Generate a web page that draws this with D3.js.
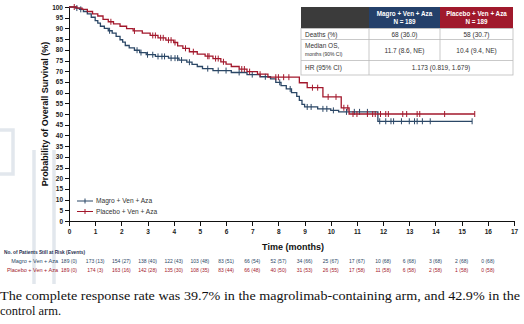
<!DOCTYPE html>
<meta charset="utf-8">
<style>
body { margin: 0; background: #fff; }
svg { display: block; font-family: "Liberation Sans", Arial, sans-serif; }
.axis path, .axis line { stroke: #111; stroke-width: 1px; shape-rendering: crispEdges; }
.axis text { font-size: 6.5px; fill: #222; font-weight: bold; }
.km { fill: none; stroke-width: 1.3px; }
.risk { font-size: 5px; }
.tbl { font-size: 6.5px; fill: #333; }
</style>
<body>
<script src="https://d3js.org/d3.v7.min.js"></script>
<script>

// Kaplan-Meier step points (months, % surviving)
var magroTimes = [0,0.25,0.4,0.55,0.7,0.85,1.0,1.1,1.2,1.35,1.5,1.65,1.8,1.95,2.05,2.15,2.3,2.5,2.7,2.95,3.3,3.8,4.2,4.5,4.7,4.9,5.1,5.5,6.2,6.8,7.3,7.7,7.9,8.1,8.3,8.5,8.7,8.8,8.9,9.0,9.5,10.0,10.3,11.8];
var magroSurv  = [100,99.5,98.9,97.9,96.8,95.2,93.6,92.5,91.0,90.0,88.9,87.8,86.3,84.7,83.6,82.0,80.9,79.8,78.7,77.7,76.9,76.1,75.2,74.2,73.2,72.2,71.2,70.3,69.4,68.4,67.4,66.4,64.8,63.3,61.7,60.0,58.2,56.4,54.5,53.3,52.4,51.7,51.0,46.6];
var magroEnd = 15.4;
var magroCensor = [0.3,0.45,1.55,2.6,2.75,3.0,3.2,3.4,3.55,3.65,3.9,4.05,4.15,4.3,4.6,5.3,5.7,6.0,6.5,7.0,7.5,8.05,8.45,9.1,9.25,9.7,9.85,10.1,10.6,10.9,11.1,11.4,11.87,12.1,12.3,12.4,12.7,13.0,13.2,13.3,13.5,13.8,15.4];

var placeboTimes = [0,0.3,0.5,0.7,0.9,1.1,1.3,1.5,1.7,1.95,2.2,2.45,2.8,3.1,3.4,3.7,4.0,4.15,4.35,4.6,4.9,5.2,5.5,5.8,6.0,6.2,6.5,6.8,7.2,7.6,8.8,9.1,9.7,10.4,10.7];
var placeboSurv  = [100,99.5,98.9,97.9,96.8,95.8,94.2,93.1,92.1,91.0,89.9,88.8,87.8,86.7,85.6,84.5,83.4,81.8,80.7,79.1,78.0,77.0,75.9,74.4,73.3,72.2,71.0,69.8,68.6,67.2,64.6,62.3,58.0,52.9,50.0];
var placeboEnd = 15.5;
var placeboCensor = [0.2,1.6,2.5,3.2,3.3,3.5,3.6,3.8,3.9,4.05,4.45,4.75,5.3,5.35,5.6,5.7,5.9,6.6,6.7,6.9,7.3,7.9,8.0,8.2,8.4,9.3,9.5,9.9,10.2,10.5,10.65,10.85,11.0,11.4,11.6,11.7,11.9,12.1,12.2,12.75,12.9,13.3,13.4,14.35,15.5];

var seriesNames = ["Magro + Ven + Aza", "Placebo + Ven + Aza"];
var seriesColors = ["#2b4766", "#a3182c"];

// patients at risk (events), one per month 0..16
var riskMonths = [0,1,2,3,4,5,6,7,8,9,10,11,12,13,14,15,16];
var magroRisk = ["189 (0)","173 (13)","154 (27)","138 (40)","122 (43)","103 (48)","83 (51)","66 (54)","52 (57)","34 (66)","25 (67)","17 (67)","10 (68)","6 (68)","3 (68)","2 (68)","0 (68)"];
var placeboRisk = ["189 (0)","174 (3)","163 (16)","142 (28)","135 (30)","108 (35)","83 (44)","66 (48)","40 (50)","31 (53)","26 (55)","17 (58)","11 (58)","6 (58)","2 (58)","1 (58)","0 (58)"];

// summary table
var tblHeader = [["Magro + Ven + Aza", "N = 189"], ["Placebo + Ven + Aza", "N = 189"]];
var tblDeaths = ["Deaths (%)", "68 (36.0)", "58 (30.7)"];
var tblMedian = ["Median OS,", "months (90% CI)", "11.7 (8.6, NE)", "10.4 (9.4, NE)"];
var tblHR = ["HR (95% CI)", "1.173 (0.819, 1.679)"];

var W = 524, H = 324;
var svg = d3.select("body").append("svg").attr("width", W).attr("height", H);

// faint background shapes
var bg = svg.append("g").attr("fill", "none").attr("stroke", "#e2e7ed").attr("stroke-width", 3.5);
bg.append("path").attr("d", "M-5,130H13V174H-5");
bg.append("line").attr("x1", 34).attr("x2", 34).attr("y1", 150).attr("y2", 284);
bg.append("line").attr("x1", 54).attr("x2", 54).attr("y1", 150).attr("y2", 284);

var x = d3.scaleLinear().domain([0, 17]).range([69, 514]);
var y = d3.scaleLinear().domain([0, 100]).range([221, 7]);

svg.append("g").attr("class", "axis")
    .attr("transform", "translate(69,0)")
    .call(d3.axisLeft(y).tickValues(d3.range(0, 101, 5)).tickSize(4).tickPadding(2));

svg.append("g").attr("class", "axis")
    .attr("transform", "translate(0,221)")
    .call(d3.axisBottom(x).tickValues(d3.range(0, 18)).tickSize(5).tickPadding(3));

svg.selectAll(".axis .domain").attr("stroke-width", 1.2);

svg.append("text")
    .attr("transform", "translate(48,114) rotate(-90)")
    .attr("text-anchor", "middle")
    .style("font-size", "9px").style("font-weight", "bold").attr("fill", "#111")
    .text("Probability of Overall Survival (%)");

svg.append("text")
    .attr("x", 293).attr("y", 250)
    .attr("text-anchor", "middle")
    .style("font-size", "9px").style("font-weight", "bold").attr("fill", "#111")
    .text("Time (months)");

// curves
var series = [
  {times: magroTimes, surv: magroSurv, end: magroEnd, censor: magroCensor},
  {times: placeboTimes, surv: placeboSurv, end: placeboEnd, censor: placeboCensor}
];

var line = d3.line()
    .x(function(d) { return x(d[0]); })
    .y(function(d) { return y(d[1]); })
    .curve(d3.curveStepAfter);

function survAt(s, t) {
  var i = d3.bisectRight(s.times, t) - 1;
  return s.surv[Math.max(0, i)];
}

series.forEach(function(s, k) {
  var pts = s.times.map(function(t, i) { return [t, s.surv[i]]; });
  pts.push([s.end, s.surv[s.surv.length - 1]]);
  var g = svg.append("g").attr("stroke", seriesColors[k]);
  g.append("path").attr("class", "km").attr("d", line(pts));
  g.selectAll("line").data(s.censor).enter().append("line")
      .attr("x1", function(t) { return x(t); })
      .attr("x2", function(t) { return x(t); })
      .attr("y1", function(t) { return y(survAt(s, t)) - 3; })
      .attr("y2", function(t) { return y(survAt(s, t)) + 3; })
      .attr("stroke-width", 1);
});

// legend
var leg = svg.append("g").selectAll("g").data(seriesNames).enter().append("g")
    .attr("transform", function(d, i) { return "translate(77," + (201 + i * 10.5) + ")"; });
leg.append("line").attr("x1", 0).attr("x2", 16)
    .attr("stroke", function(d, i) { return seriesColors[i]; }).attr("stroke-width", 1);
leg.append("line").attr("x1", 8).attr("x2", 8).attr("y1", -2.5).attr("y2", 2.5)
    .attr("stroke", function(d, i) { return seriesColors[i]; }).attr("stroke-width", 1);
leg.append("text").attr("x", 19).attr("dy", "0.35em")
    .style("font-size", "6.6px").attr("fill", "#333")
    .text(function(d) { return d; });

// summary table
var tx = [301, 369, 440, 513], ty = [7, 28.5, 39.5, 60.5, 75];
var tb = svg.append("g");
var headFill = ["#3b3b3b", "#24406a", "#a0192c"];
headFill.forEach(function(c, i) {
  tb.append("rect").attr("x", tx[i]).attr("y", ty[0])
      .attr("width", tx[i + 1] - tx[i]).attr("height", ty[1] - ty[0]).attr("fill", c);
});
tb.append("rect").attr("x", tx[0]).attr("y", ty[1])
    .attr("width", tx[3] - tx[0]).attr("height", ty[4] - ty[1])
    .attr("fill", "#fff").attr("stroke", "#bbb").attr("stroke-width", 0.8);
[ty[2], ty[3]].forEach(function(v) {
  tb.append("line").attr("x1", tx[0]).attr("x2", tx[3]).attr("y1", v).attr("y2", v)
      .attr("stroke", "#bbb").attr("stroke-width", 0.8);
});
tb.append("line").attr("x1", tx[1]).attr("x2", tx[1]).attr("y1", ty[1]).attr("y2", ty[4])
    .attr("stroke", "#bbb").attr("stroke-width", 0.8);
tb.append("line").attr("x1", tx[2]).attr("x2", tx[2]).attr("y1", ty[1]).attr("y2", ty[3])
    .attr("stroke", "#bbb").attr("stroke-width", 0.8);

tblHeader.forEach(function(h, i) {
  var cx = (tx[i + 1] + tx[i + 2]) / 2;
  h.forEach(function(s, j) {
    tb.append("text").attr("x", cx).attr("y", 15.5 + j * 8)
        .attr("text-anchor", "middle").attr("fill", "#fff")
        .style("font-size", "6.3px").style("font-weight", "bold").text(s);
  });
});

function cell(txt, col, yy, size) {
  var t = tb.append("text").attr("class", "tbl").attr("y", yy).text(txt);
  if (col === 0) t.attr("x", tx[0] + 4);
  else t.attr("x", (tx[col] + tx[col + 1]) / 2).attr("text-anchor", "middle");
  if (size) t.style("font-size", size);
  return t;
}
cell(tblDeaths[0], 0, 36.5);
cell(tblDeaths[1], 1, 36.5);
cell(tblDeaths[2], 2, 36.5);
cell(tblMedian[0], 0, 47.5);
cell(tblMedian[1], 0, 56, "5px");
cell(tblMedian[2], 1, 52.5);
cell(tblMedian[3], 2, 52.5);
cell(tblHR[0], 0, 70);
tb.append("text").attr("class", "tbl").attr("x", (tx[1] + tx[3]) / 2).attr("y", 70)
    .attr("text-anchor", "middle").text(tblHR[1]);

// at risk table
svg.append("text").attr("x", 4).attr("y", 254)
    .style("font-size", "4.8px").style("font-weight", "bold").attr("fill", "#1f3050")
    .text("No. of Patients Still at Risk (Events)");

[magroRisk, placeboRisk].forEach(function(rows, k) {
  var yy = 263 + k * 9;
  svg.append("text").attr("class", "risk").attr("x", 58).attr("y", yy)
      .attr("text-anchor", "end").attr("fill", seriesColors[k])
      .style("font-size", "5.5px").text(seriesNames[k]);
  svg.append("g").selectAll("text").data(rows).enter().append("text")
      .attr("class", "risk")
      .attr("x", function(d, i) { return x(riskMonths[i]); })
      .attr("y", yy).attr("text-anchor", "middle")
      .attr("fill", seriesColors[k])
      .text(function(d) { return d; });
});

// text below the figure
var para = ["The complete response rate was 39.7% in the magrolimab-containing arm, and 42.9% in the",
            "control arm."];
svg.append("text").attr("x", 0).attr("y", 300)
    .attr("textLength", 520).attr("lengthAdjust", "spacingAndGlyphs")
    .style("font-family", "'Liberation Serif', 'Times New Roman', serif").style("font-size", "12.5px")
    .attr("fill", "#111").text(para[0]);
svg.append("text").attr("x", 0).attr("y", 315)
    .style("font-family", "'Liberation Serif', 'Times New Roman', serif").style("font-size", "12.5px")
    .attr("fill", "#111").text(para[1]);

</script>
